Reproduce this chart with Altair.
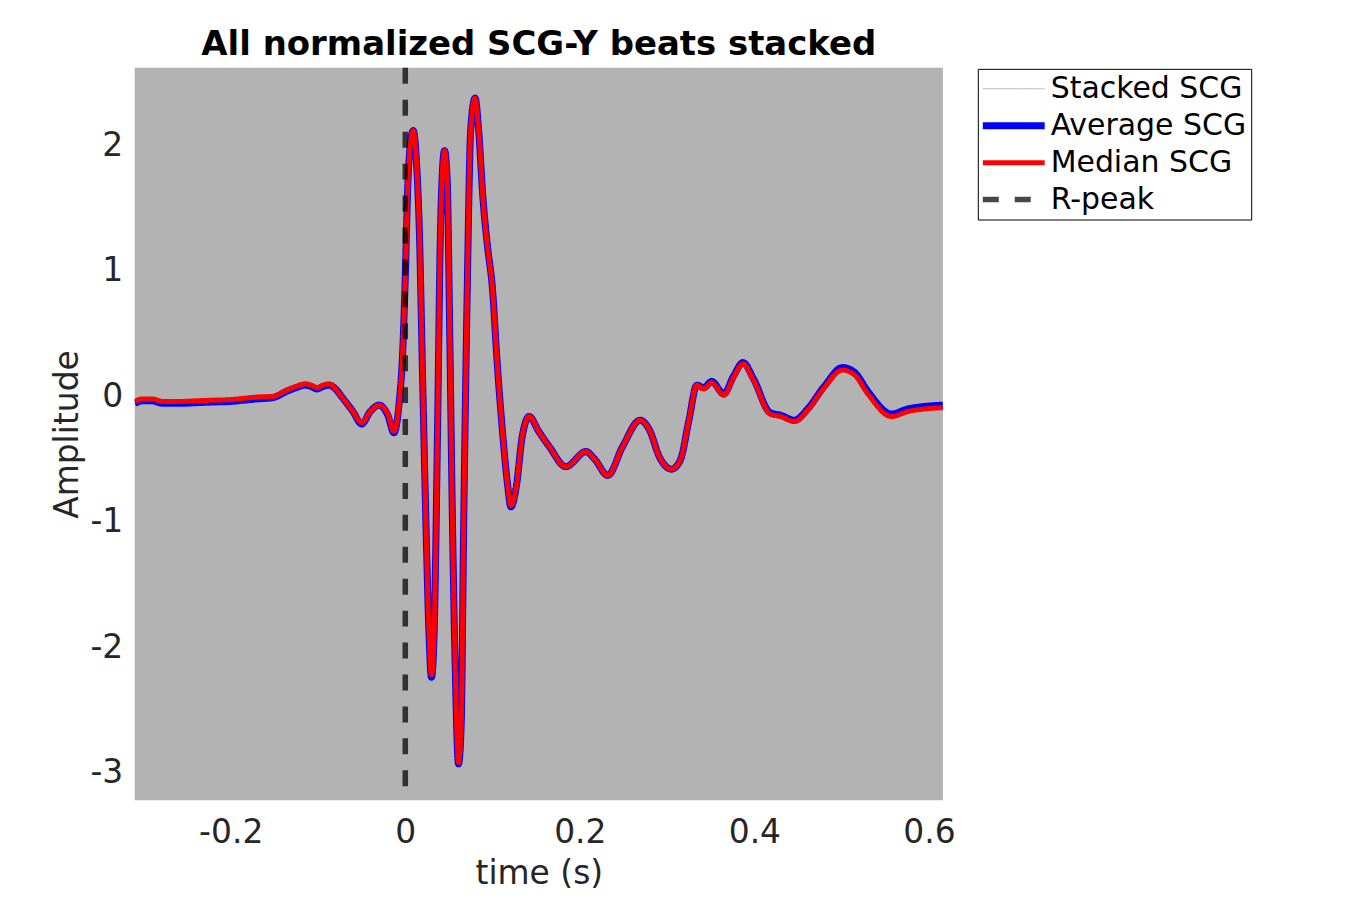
import altair as alt
import pandas as pd

# time axis (s)
T = [-0.310, -0.301, -0.290, -0.278, -0.258, -0.240, -0.221, -0.200, -0.185, -0.170,
     -0.152, -0.136, -0.125, -0.115, -0.108, -0.101, -0.094, -0.087, -0.080, -0.072,
     -0.060, -0.050, -0.040, -0.030, -0.020, -0.013, -0.007, -0.003, 0.000, 0.003,
     0.006, 0.009, 0.011, 0.013, 0.016, 0.020, 0.024, 0.027, 0.030, 0.033,
     0.037, 0.040, 0.043, 0.045, 0.048, 0.051, 0.054, 0.057, 0.061, 0.064,
     0.067, 0.071, 0.075, 0.080, 0.084, 0.089, 0.094, 0.100, 0.105, 0.111,
     0.117, 0.121, 0.127, 0.134, 0.142, 0.153, 0.165, 0.184, 0.207, 0.217,
     0.232, 0.249, 0.269, 0.280, 0.291, 0.305, 0.315, 0.325, 0.334, 0.342,
     0.351, 0.365, 0.376, 0.387, 0.399, 0.418, 0.430, 0.446, 0.461, 0.480,
     0.501, 0.515, 0.530, 0.557, 0.576, 0.595, 0.616]

# median SCG
MEDIAN = [-0.04, -0.02, -0.02, -0.04, -0.04, -0.035, -0.03, -0.025, -0.015, -0.005,
          0.00, 0.05, 0.08, 0.10, 0.09, 0.07, 0.09, 0.10, 0.06, -0.01,
          -0.12, -0.21, -0.12, -0.07, -0.14, -0.28, -0.05, 0.35, 0.95, 1.70,
          2.02, 2.12, 2.05, 1.85, 1.35, 0.10, -1.10, -1.85, -2.22, -1.90,
          -0.25, 1.21, 1.85, 1.96, 1.73, 0.48, -0.98, -2.08, -2.92, -2.63,
          -0.98, 0.85, 2.13, 2.38, 2.13, 1.58, 1.21, 0.85, 0.30, -0.25,
          -0.69, -0.87, -0.73, -0.32, -0.16, -0.28, -0.40, -0.56, -0.44, -0.50,
          -0.63, -0.40, -0.19, -0.27, -0.48, -0.58, -0.51, -0.19, 0.09, 0.06,
          0.11, 0.01, 0.15, 0.26, 0.13, -0.14, -0.16, -0.20, -0.11, 0.07,
          0.21, 0.17, 0.02, -0.16, -0.12, -0.10, -0.09]

# average SCG
AVERAGE = [-0.055, -0.035, -0.035, -0.055, -0.055, -0.05, -0.045, -0.04, -0.03, -0.02,
           -0.01, 0.04, 0.07, 0.09, 0.08, 0.06, 0.08, 0.09, 0.06, -0.01,
           -0.12, -0.22, -0.12, -0.07, -0.15, -0.29, -0.05, 0.35, 0.95, 1.70,
           2.02, 2.12, 2.05, 1.85, 1.35, 0.10, -1.10, -1.86, -2.24, -1.90,
           -0.25, 1.21, 1.85, 1.96, 1.73, 0.48, -0.98, -2.09, -2.93, -2.63,
           -0.98, 0.85, 2.13, 2.38, 2.13, 1.58, 1.21, 0.85, 0.30, -0.25,
           -0.69, -0.88, -0.73, -0.32, -0.16, -0.28, -0.40, -0.56, -0.44, -0.50,
           -0.63, -0.40, -0.19, -0.27, -0.48, -0.58, -0.51, -0.19, 0.09, 0.07,
           0.12, 0.02, 0.16, 0.27, 0.14, -0.13, -0.15, -0.19, -0.10, 0.08,
           0.23, 0.19, 0.04, -0.14, -0.10, -0.08, -0.07]

R_PEAK = [0.0]
SERIES = ["Stacked SCG", "Average SCG", "Median SCG", "R-peak"]
COLORS = ["#b3b3b3", "#0000ff", "#ff0000", "rgba(0,0,0,0.72)"]
WIDTHS = [1, 7, 5, 5.5]
DASHES = [[1, 0], [1, 0], [1, 0], [16, 16]]
X_TICKS = [-0.2, 0, 0.2, 0.4, 0.6]
Y_TICKS = [-3, -2, -1, 0, 1, 2]
X_DOMAIN = [-0.310, 0.616]
Y_DOMAIN = [-3.22, 2.62]

FONT = "DejaVu Sans"

avg_df = pd.DataFrame({"t": T, "amp": AVERAGE, "series": "Average SCG"})
med_df = pd.DataFrame({"t": T, "amp": MEDIAN, "series": "Median SCG"})
r_df = pd.DataFrame({"t": R_PEAK, "series": "R-peak"})

legend = alt.Legend(
    title=None, orient="none", legendX=845, legendY=1,
    symbolType="M-3,0H9.4", symbolSize=100, labelOffset=38,
    labelFont=FONT, labelFontSize=30, labelColor="black", labelLimit=500,
    strokeColor="black", fillColor="white", padding=5, rowPadding=7,
)

color = alt.Color("series:N", scale=alt.Scale(domain=SERIES, range=COLORS), legend=legend)
width = alt.StrokeWidth("series:N", scale=alt.Scale(type="ordinal", domain=SERIES, range=WIDTHS),
                        legend=legend)
dash = alt.StrokeDash("series:N", scale=alt.Scale(domain=SERIES, range=DASHES), legend=legend)

x = alt.X("t:Q", scale=alt.Scale(domain=X_DOMAIN, nice=False, zero=False),
          axis=alt.Axis(values=X_TICKS, labelExpr="'' + datum.value", title="time (s)"))
y = alt.Y("amp:Q", scale=alt.Scale(domain=Y_DOMAIN, nice=False, zero=False),
          axis=alt.Axis(values=Y_TICKS, labelExpr="'' + datum.value", title="Amplitude"))

avg_line = alt.Chart(avg_df).mark_line(interpolate="monotone", clip=True).encode(
    x=x, y=y, color=color, strokeWidth=width, strokeDash=dash)
med_line = alt.Chart(med_df).mark_line(interpolate="monotone", clip=True).encode(
    x=x, y=y, color=color, strokeWidth=width, strokeDash=dash)
rpeak = alt.Chart(r_df).mark_rule().encode(
    x=alt.X("t:Q"), color=color, strokeWidth=width, strokeDash=dash)

chart = alt.layer(avg_line, med_line, rpeak).properties(
    width=810, height=734,
    title=alt.TitleParams("All normalized SCG-Y beats stacked", font=FONT, fontSize=34,
                          fontWeight="bold", color="black", anchor="middle", offset=3),
    autosize=alt.AutoSizeParams(type="none"),
    padding={"left": 127, "top": 59, "right": 400, "bottom": 90},
).configure_view(fill="#b3b3b3", strokeWidth=0).configure_axis(
    domain=False, ticks=False, grid=False,
    labelFont=FONT, labelFontSize=33, labelColor="#262626",
    titleFont=FONT, titleFontSize=33, titleColor="#262626", titleFontWeight="normal",
).configure_axisX(labelPadding=16, titlePadding=8).configure_axisY(
    labelPadding=12, titlePadding=5)

chart.save("out.html", embed_options={"renderer": "svg", "actions": False})
